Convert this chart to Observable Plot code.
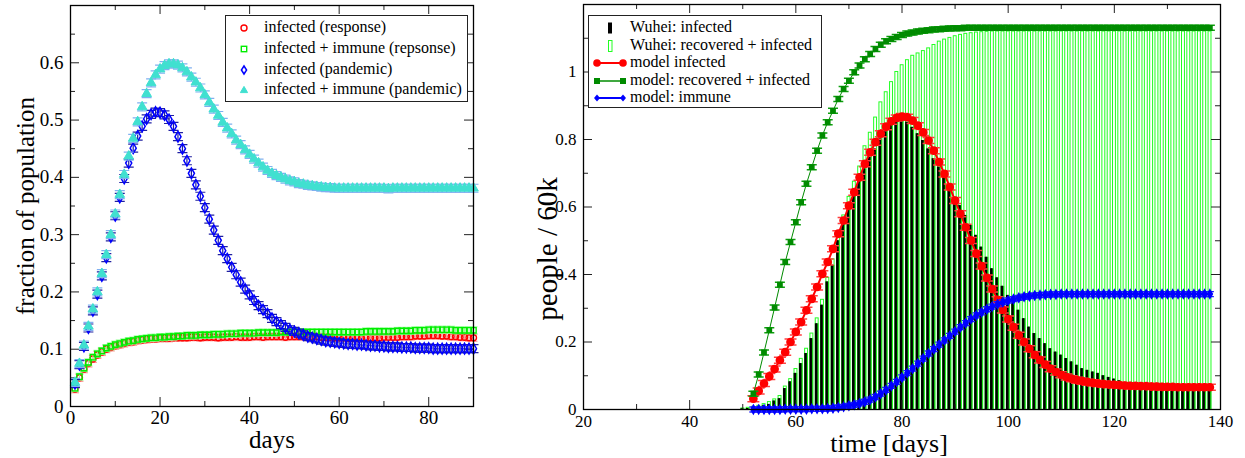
<!DOCTYPE html>
<html><head><meta charset="utf-8">
<script src="https://cdn.jsdelivr.net/npm/d3@7"></script>
<script src="https://cdn.jsdelivr.net/npm/@observablehq/plot@0.6"></script>
<style>
body{margin:0;background:#fff;}
#wrap{position:relative;width:1245px;height:458px;overflow:hidden;font-family:"Liberation Serif","Times New Roman",serif;}
#wrap svg text{font-family:"Liberation Serif","Times New Roman",serif;}
#left{position:absolute;left:0;top:0;}
#right{position:absolute;left:500px;top:0;}
.legend{position:absolute;background:#fff;border:1px solid #222;box-sizing:border-box;font-size:16px;color:#000;}
.legend .txt{position:absolute;white-space:nowrap;line-height:18px;height:18px;}
.legend svg{position:absolute;overflow:visible;}
</style></head><body><div id="wrap"><div id="left"></div><div id="right"></div></div>
<script>
// ---------------- LEFT PANEL DATA ----------------
const leftDays = d3.range(1, 91);
const respInfected = [
0.030,0.050,0.065,0.075,0.083,0.090,0.095,0.100,0.103,0.106,0.108,0.110,0.112,0.113,0.115,0.116,0.117,0.118,0.118,0.119,
0.119,0.119,0.120,0.120,0.120,0.120,0.121,0.121,0.120,0.121,0.121,0.121,0.120,0.121,0.121,0.121,0.122,0.121,0.121,0.121,
0.122,0.122,0.121,0.122,0.122,0.122,0.122,0.121,0.122,0.122,0.122,0.122,0.121,0.122,0.122,0.121,0.121,0.121,0.120,0.120,
0.120,0.119,0.119,0.119,0.119,0.120,0.120,0.120,0.120,0.121,0.121,0.121,0.121,0.122,0.122,0.122,0.123,0.123,0.123,0.124,
0.124,0.124,0.123,0.123,0.122,0.122,0.121,0.121,0.120,0.120];
const respImmune = [
0.032,0.052,0.067,0.077,0.086,0.092,0.097,0.102,0.105,0.108,0.110,0.112,0.114,0.115,0.117,0.118,0.119,0.120,0.120,0.121,
0.121,0.122,0.122,0.123,0.123,0.124,0.124,0.124,0.125,0.125,0.125,0.126,0.126,0.126,0.127,0.127,0.127,0.128,0.128,0.128,
0.128,0.129,0.129,0.129,0.129,0.129,0.130,0.130,0.130,0.130,0.130,0.130,0.130,0.130,0.130,0.130,0.130,0.130,0.130,0.130,
0.130,0.130,0.130,0.130,0.130,0.131,0.131,0.131,0.131,0.131,0.131,0.131,0.132,0.132,0.132,0.132,0.133,0.133,0.133,0.134,
0.134,0.134,0.134,0.134,0.134,0.133,0.133,0.133,0.133,0.133];
const pandInfected = [
0.040,0.073,0.105,0.137,0.167,0.196,0.228,0.260,0.296,0.333,0.365,0.398,0.425,0.451,0.472,0.489,0.502,0.510,0.514,0.513,
0.509,0.501,0.489,0.471,0.450,0.429,0.407,0.387,0.367,0.347,0.327,0.308,0.290,0.272,0.258,0.243,0.230,0.217,0.205,0.195,
0.185,0.176,0.169,0.162,0.154,0.148,0.143,0.138,0.134,0.131,0.128,0.125,0.122,0.120,0.118,0.116,0.114,0.113,0.112,0.111,
0.110,0.109,0.109,0.108,0.108,0.107,0.106,0.106,0.105,0.105,0.104,0.104,0.104,0.103,0.103,0.103,0.102,0.102,0.102,0.102,
0.101,0.101,0.101,0.101,0.101,0.101,0.101,0.101,0.101,0.101];
const pandImmune = [
0.042,0.075,0.107,0.140,0.170,0.200,0.232,0.265,0.300,0.336,0.370,0.405,0.437,0.468,0.497,0.523,0.546,0.565,0.579,0.589,
0.595,0.598,0.598,0.596,0.591,0.584,0.575,0.566,0.556,0.544,0.531,0.519,0.508,0.496,0.486,0.476,0.465,0.457,0.448,0.440,
0.432,0.425,0.418,0.412,0.407,0.403,0.400,0.397,0.394,0.392,0.389,0.388,0.386,0.385,0.384,0.383,0.382,0.382,0.381,0.381,
0.381,0.381,0.381,0.381,0.381,0.381,0.381,0.381,0.381,0.381,0.380,0.381,0.381,0.381,0.381,0.381,0.381,0.381,0.381,0.381,
0.381,0.381,0.381,0.381,0.381,0.381,0.381,0.381,0.381,0.381];
const leftXTicks = [0, 20, 40, 60, 80];
const leftXMinor = [10, 30, 50, 70];
const leftYTicks = [0, 0.1, 0.2, 0.3, 0.4, 0.5, 0.6];
const leftYMinor = [0.05, 0.15, 0.25, 0.35, 0.45, 0.55, 0.65];
const leftLabels = ["infected (response)", "infected + immune (repsonse)", "infected (pandemic)", "infected + immune (pandemic)"];

// ---------------- RIGHT PANEL DATA ----------------
const barDays = d3.range(21, 139);
const wuheiInfected = [
0,0,0,0,0,0,0,0,0,0,0,0,0,0,0,0,0,0,0,0,0,0,0,0,0,0,0,0,0,
0.002,0.003,0.005,0.008,0.011,0.015,0.025,0.032,0.062,0.082,
0.107,0.136,0.166,0.210,0.254,0.309,0.378,0.427,0.500,0.550,
0.600,0.639,0.678,0.713,0.747,0.772,0.802,0.826,0.841,0.856,
0.858,0.851,0.836,0.817,0.797,0.772,0.743,0.718,0.688,0.659,
0.629,0.604,0.575,0.545,0.516,0.481,0.451,0.417,0.390,0.365,
0.338,0.318,0.294,0.269,0.244,0.225,0.210,0.195,0.180,0.170,
0.161,0.151,0.141,0.131,0.121,0.116,0.111,0.107,0.100,0.095,
0.090,0.085,0.080,0.077,0.074,0.072,0.070,0.068,0.066,0.065,
0.064,0.063,0.062,0.061,0.061,0.060,0.060,0.060,0.060];
const wuheiRecovered = [
0,0,0,0,0,0,0,0,0,0,0,0,0,0,0,0,0,0,0,0,0,0,0,0,0,0,0,0,0,
0.003,0.005,0.008,0.011,0.016,0.022,0.030,0.040,0.068,0.090,
0.120,0.150,0.180,0.225,0.270,0.325,0.390,0.445,0.520,0.575,
0.630,0.675,0.720,0.780,0.820,0.865,0.910,0.940,0.970,1.000,
1.020,1.035,1.048,1.055,1.062,1.070,1.080,1.090,1.096,1.101,
1.106,1.110,1.113,1.115,1.117,1.118,1.119,1.120,1.120,1.120,
1.120,1.120,1.120,1.120,1.120,1.120,1.120,1.120,1.120,1.120,
1.120,1.120,1.120,1.120,1.120,1.120,1.120,1.120,1.120,1.120,
1.120,1.120,1.120,1.120,1.120,1.120,1.120,1.120,1.120,1.120,
1.120,1.120,1.120,1.120,1.120,1.120,1.120,1.120,1.120];
const modelDays = d3.range(52, 139);
const modelInfected = [
0.032,0.055,0.077,0.098,0.120,0.146,0.170,0.200,0.230,0.259,
0.294,0.328,0.363,0.402,0.437,0.476,0.521,0.560,0.604,0.644,
0.688,0.728,0.762,0.792,0.817,0.838,0.854,0.864,0.868,0.866,
0.856,0.841,0.821,0.797,0.767,0.733,0.698,0.659,0.619,0.580,
0.540,0.501,0.462,0.425,0.390,0.357,0.325,0.295,0.268,0.244,
0.220,0.200,0.180,0.162,0.147,0.133,0.121,0.111,0.103,0.096,
0.091,0.087,0.084,0.081,0.079,0.077,0.075,0.074,0.073,0.072,
0.071,0.070,0.070,0.069,0.069,0.068,0.068,0.067,0.067,0.067,
0.066,0.066,0.066,0.066,0.066,0.066,0.066];
const modelRecovered = [
0.047,0.104,0.169,0.235,0.302,0.370,0.437,0.496,0.555,0.614,
0.669,0.718,0.767,0.812,0.851,0.885,0.920,0.950,0.974,0.999,
1.019,1.038,1.053,1.068,1.081,1.091,1.098,1.104,1.110,1.114,
1.117,1.120,1.122,1.124,1.126,1.127,1.128,1.129,1.130,1.130,
1.131,1.131,1.131,1.131,1.131,1.131,1.131,1.131,1.131,1.131,
1.131,1.131,1.131,1.131,1.131,1.131,1.131,1.131,1.131,1.131,
1.131,1.131,1.131,1.131,1.131,1.131,1.131,1.131,1.131,1.131,
1.131,1.131,1.131,1.131,1.131,1.131,1.131,1.131,1.131,1.131,
1.131,1.131,1.131,1.131,1.131,1.131,1.131];
const modelImmune = [
0.000,0.000,0.000,0.000,0.000,0.000,0.001,0.001,0.001,0.001,
0.001,0.002,0.002,0.002,0.003,0.004,0.006,0.008,0.011,0.014,
0.018,0.023,0.029,0.037,0.047,0.058,0.070,0.082,0.095,0.108,
0.121,0.136,0.151,0.166,0.179,0.192,0.205,0.218,0.231,0.244,
0.256,0.268,0.279,0.288,0.297,0.305,0.312,0.318,0.323,0.327,
0.331,0.334,0.336,0.338,0.339,0.340,0.341,0.341,0.342,0.342,
0.342,0.342,0.342,0.342,0.342,0.342,0.342,0.342,0.342,0.342,
0.342,0.342,0.342,0.342,0.342,0.342,0.342,0.342,0.342,0.342,
0.342,0.342,0.342,0.342,0.342,0.342,0.342];
const rightXTicks = [20, 40, 60, 80, 100, 120, 140];
const rightXMinor = [30, 50, 70, 90, 110, 130];
const rightYTicks = [0, 0.2, 0.4, 0.6, 0.8, 1];
const rightYMinor = [0.1, 0.3, 0.5, 0.7, 0.9, 1.1];
const rightLabels = ["Wuhei: infected", "Wuhei: recovered + infected", "model infected", "model: recovered + infected", "model: immune"];

// ---------------- helpers ----------------
const series = (days, vals) => days.map((day, i) => ({day, v: vals[i]}));
const errorBar = (w, h) => ({draw(c) {
  c.moveTo(-w, -h); c.lineTo(w, -h);
  c.moveTo(-w, h); c.lineTo(w, h);
  c.moveTo(0, -h); c.lineTo(0, h);
}});
const fmt = d => String(d);
const FONT = '"Liberation Serif","Times New Roman",serif';

function tickMarks(xMajor, xMinor, yMajor, yMinor, innerW, innerH) {
  const M = 9, m = 5, st = {stroke: "#222", strokeWidth: 1};
  return [
    Plot.ruleX(xMajor, {x: d => d, insetTop: innerH - M, ...st}),
    Plot.ruleX(xMinor, {x: d => d, insetTop: innerH - m, ...st}),
    Plot.ruleX(xMajor, {x: d => d, insetBottom: innerH - M, ...st}),
    Plot.ruleX(xMinor, {x: d => d, insetBottom: innerH - m, ...st}),
    Plot.ruleY(yMajor, {y: d => d, insetRight: innerW - M, ...st}),
    Plot.ruleY(yMinor, {y: d => d, insetRight: innerW - m, ...st}),
    Plot.ruleY(yMajor, {y: d => d, insetLeft: innerW - M, ...st}),
    Plot.ruleY(yMinor, {y: d => d, insetLeft: innerW - m, ...st})
  ];
}

// ---------------- LEFT PLOT ----------------
const LW = 500, H = 458;
const lm = {top: 5, right: 27, bottom: 52, left: 70};
const lIW = LW - lm.left - lm.right, lIH = H - lm.top - lm.bottom;
const sR = series(leftDays, respInfected), sG = series(leftDays, respImmune),
      sB = series(leftDays, pandInfected), sC = series(leftDays, pandImmune);

const leftPlot = Plot.plot({
  width: LW, height: H,
  marginTop: lm.top, marginRight: lm.right, marginBottom: lm.bottom, marginLeft: lm.left,
  style: {fontFamily: FONT, fontSize: "19px", background: "transparent", overflow: "visible", color: "#000"},
  x: {domain: [0, 90]},
  y: {domain: [0, 0.7]},
  marks: [
    ...tickMarks(leftXTicks, leftXMinor, leftYTicks, leftYMinor, lIW, lIH),
    Plot.axisX(leftXTicks, {tickSize: 0, tickPadding: 4, tickFormat: fmt, label: null}),
    Plot.axisY(leftYTicks, {tickSize: 0, tickPadding: 7, tickFormat: fmt, label: null}),
    Plot.dot(sR, {x: "day", y: "v", symbol: errorBar(4, 3.5), stroke: "#ff9090", strokeWidth: 1}),
    Plot.dot(sR, {x: "day", y: "v", r: 3, stroke: "#ff0000", fill: "none", strokeWidth: 1.4}),
    Plot.dot(sG, {x: "day", y: "v", symbol: errorBar(4, 3.5), stroke: "#90ff90", strokeWidth: 1}),
    Plot.dot(sG, {x: "day", y: "v", r: 3, symbol: "square", stroke: "#00ee00", fill: "none", strokeWidth: 1.4}),
    Plot.dot(sB, {x: "day", y: "v", symbol: errorBar(5, 4), stroke: "#2020a0", strokeWidth: 1.2}),
    Plot.dot(sB, {x: "day", y: "v", r: 3.2, symbol: "diamond", stroke: "#0000ff", fill: "none", strokeWidth: 1.5}),
    Plot.dot(sC, {x: "day", y: "v", symbol: errorBar(5, 4), stroke: "#80b0f0", strokeWidth: 1.2}),
    Plot.dot(sC, {x: "day", y: "v", r: 3.6, symbol: "triangle", stroke: "#40e0d0", fill: "#40e0d0", strokeWidth: 1}),
    Plot.frame({stroke: "#000", strokeWidth: 1.3}),
    Plot.text(["days"], {text: d => d, frameAnchor: "bottom", textAnchor: "middle", lineAnchor: "middle", dy: 33, fontSize: 25}),
    Plot.text(["fraction of population"], {text: d => d, frameAnchor: "left", textAnchor: "middle", lineAnchor: "middle", rotate: -90, dx: -45, dy: 0, fontSize: 25})
  ]
});
document.getElementById("left").appendChild(leftPlot);

// ---------------- RIGHT PLOT ----------------
const RW = 745;
const rm = {top: 4, right: 25, bottom: 49, left: 83};
const rIW = RW - rm.left - rm.right, rIH = H - rm.top - rm.bottom;
const bars = barDays.map((day, i) => ({day, inf: wuheiInfected[i], rec: wuheiRecovered[i]}));
const mI = series(modelDays, modelInfected), mR = series(modelDays, modelRecovered), mM = series(modelDays, modelImmune);

const rightPlot = Plot.plot({
  width: RW, height: H,
  marginTop: rm.top, marginRight: rm.right, marginBottom: rm.bottom, marginLeft: rm.left,
  style: {fontFamily: FONT, fontSize: "17px", background: "transparent", overflow: "visible", color: "#000"},
  x: {domain: [20, 140]},
  y: {domain: [0, 1.2]},
  marks: [
    Plot.rectY(bars, {x1: d => d.day - 0.3, x2: d => d.day + 0.35, y: "inf", fill: "#0b6e0b"}),
    Plot.rectY(bars, {x1: d => d.day - 0.25, x2: d => d.day + 0.3, y: "rec", stroke: "#22ff22", fill: "none", strokeWidth: 1}),
    Plot.rectY(bars, {x1: d => d.day - 0.32, x2: d => d.day + 0.12, y: "inf", fill: "#000"}),
    ...tickMarks(rightXTicks, rightXMinor, rightYTicks, rightYMinor, rIW, rIH),
    Plot.axisX(rightXTicks, {tickSize: 0, tickPadding: 5, tickFormat: fmt, label: null}),
    Plot.axisY(rightYTicks, {tickSize: 0, tickPadding: 7, tickFormat: fmt, label: null}),
    Plot.line(mI, {x: "day", y: "v", stroke: "#ff0000", strokeWidth: 2}),
    Plot.dot(mI, {x: "day", y: "v", symbol: errorBar(6, 3), stroke: "#ff4040", strokeWidth: 1.5}),
    Plot.dot(mI, {x: "day", y: "v", r: 3.6, fill: "#ff0000", stroke: "#ff0000"}),
    Plot.line(mR, {x: "day", y: "v", stroke: "#008b00", strokeWidth: 1}),
    Plot.dot(mR, {x: "day", y: "v", symbol: errorBar(5, 2.5), stroke: "#10a010", strokeWidth: 1.5}),
    Plot.dot(mR, {x: "day", y: "v", r: 2.4, symbol: "square", fill: "#008b00", stroke: "#008b00"}),
    Plot.line(mM, {x: "day", y: "v", stroke: "#0000ff", strokeWidth: 2}),
    Plot.dot(mM, {x: "day", y: "v", symbol: errorBar(4, 2.5), stroke: "#2020ff", strokeWidth: 1.3}),
    Plot.dot(mM, {x: "day", y: "v", r: 2.6, symbol: "diamond", fill: "#0000ff", stroke: "#0000ff"}),
    Plot.frame({stroke: "#000", strokeWidth: 1.3}),
    Plot.text(["time [days]"], {text: d => d, frameAnchor: "bottom", textAnchor: "middle", lineAnchor: "middle", dx: -13, dy: 34, fontSize: 26}),
    Plot.text(["people / 60k"], {text: d => d, frameAnchor: "left", textAnchor: "middle", lineAnchor: "middle", rotate: -90, dx: -36, dy: 42, fontSize: 29})
  ]
});
document.getElementById("right").appendChild(rightPlot);

// ---------------- LEGENDS ----------------
const wrap = document.getElementById("wrap");
const NS = "http://www.w3.org/2000/svg";
function sym(parent, x, y, w, h, build) {
  const s = document.createElementNS(NS, "svg");
  s.setAttribute("width", w); s.setAttribute("height", h);
  s.style.left = (x - w / 2) + "px"; s.style.top = (y - h / 2) + "px";
  s.innerHTML = build(w / 2, h / 2);
  parent.appendChild(s);
}
function legendBox(x, y, w, h) {
  const d = document.createElement("div");
  d.className = "legend";
  Object.assign(d.style, {left: x + "px", top: y + "px", width: w + "px", height: h + "px"});
  wrap.appendChild(d);
  return d;
}
function legendText(box, x, y, t) {
  const s = document.createElement("div");
  s.className = "txt"; s.textContent = t;
  s.style.left = x + "px"; s.style.top = (y - 10) + "px";
  box.appendChild(s);
}
// left legend
const lb = legendBox(225, 15, 243, 87);
const lRows = [12, 33, 54, 74];
const lSyms = [
  (cx, cy) => `<circle cx="${cx}" cy="${cy}" r="3" fill="none" stroke="#ff0000" stroke-width="1.4"/>`,
  (cx, cy) => `<rect x="${cx-2.7}" y="${cy-2.7}" width="5.4" height="5.4" fill="none" stroke="#00ee00" stroke-width="1.4"/>`,
  (cx, cy) => `<path d="M${cx},${cy-4}L${cx+2.6},${cy}L${cx},${cy+4}L${cx-2.6},${cy}Z" fill="none" stroke="#0000ff" stroke-width="1.5"/>`,
  (cx, cy) => `<path d="M${cx},${cy-3.6}L${cx+3.6},${cy+2.6}L${cx-3.6},${cy+2.6}Z" fill="#40e0d0" stroke="#40e0d0"/>`
];
leftLabels.forEach((t, i) => { sym(lb, 18, lRows[i], 14, 14, lSyms[i]); legendText(lb, 38, lRows[i], t); });

// right legend
const rb = legendBox(588, 15, 234, 93);
const rRows = [12, 30, 47, 65, 82];
const lineSym = (color, marker) => (cx, cy) =>
  `<line x1="${cx-13}" y1="${cy}" x2="${cx+13}" y2="${cy}" stroke="${color}" stroke-width="${color === '#008b00' ? 1.5 : 2}"/>` +
  marker(cx - 13, cy) + marker(cx + 13, cy);
const rSyms = [
  (cx, cy) => `<rect x="${cx-2}" y="${cy-5.5}" width="4" height="11" fill="#000"/>`,
  (cx, cy) => `<rect x="${cx-1.5}" y="${cy-5.5}" width="3.5" height="11" fill="none" stroke="#22ff22" stroke-width="1"/>`,
  lineSym("#ff0000", (x, y) => `<circle cx="${x}" cy="${y}" r="3.8" fill="#ff0000"/>`),
  lineSym("#008b00", (x, y) => `<rect x="${x-3}" y="${y-3}" width="6" height="6" fill="#008b00"/>`),
  lineSym("#0000ff", (x, y) => `<path d="M${x},${y-3.5}L${x+3},${y}L${x},${y+3.5}L${x-3},${y}Z" fill="#0000ff"/>`)
];
rightLabels.forEach((t, i) => { sym(rb, 21, rRows[i], 34, 14, rSyms[i]); legendText(rb, 41, rRows[i], t); });
</script></body></html>
